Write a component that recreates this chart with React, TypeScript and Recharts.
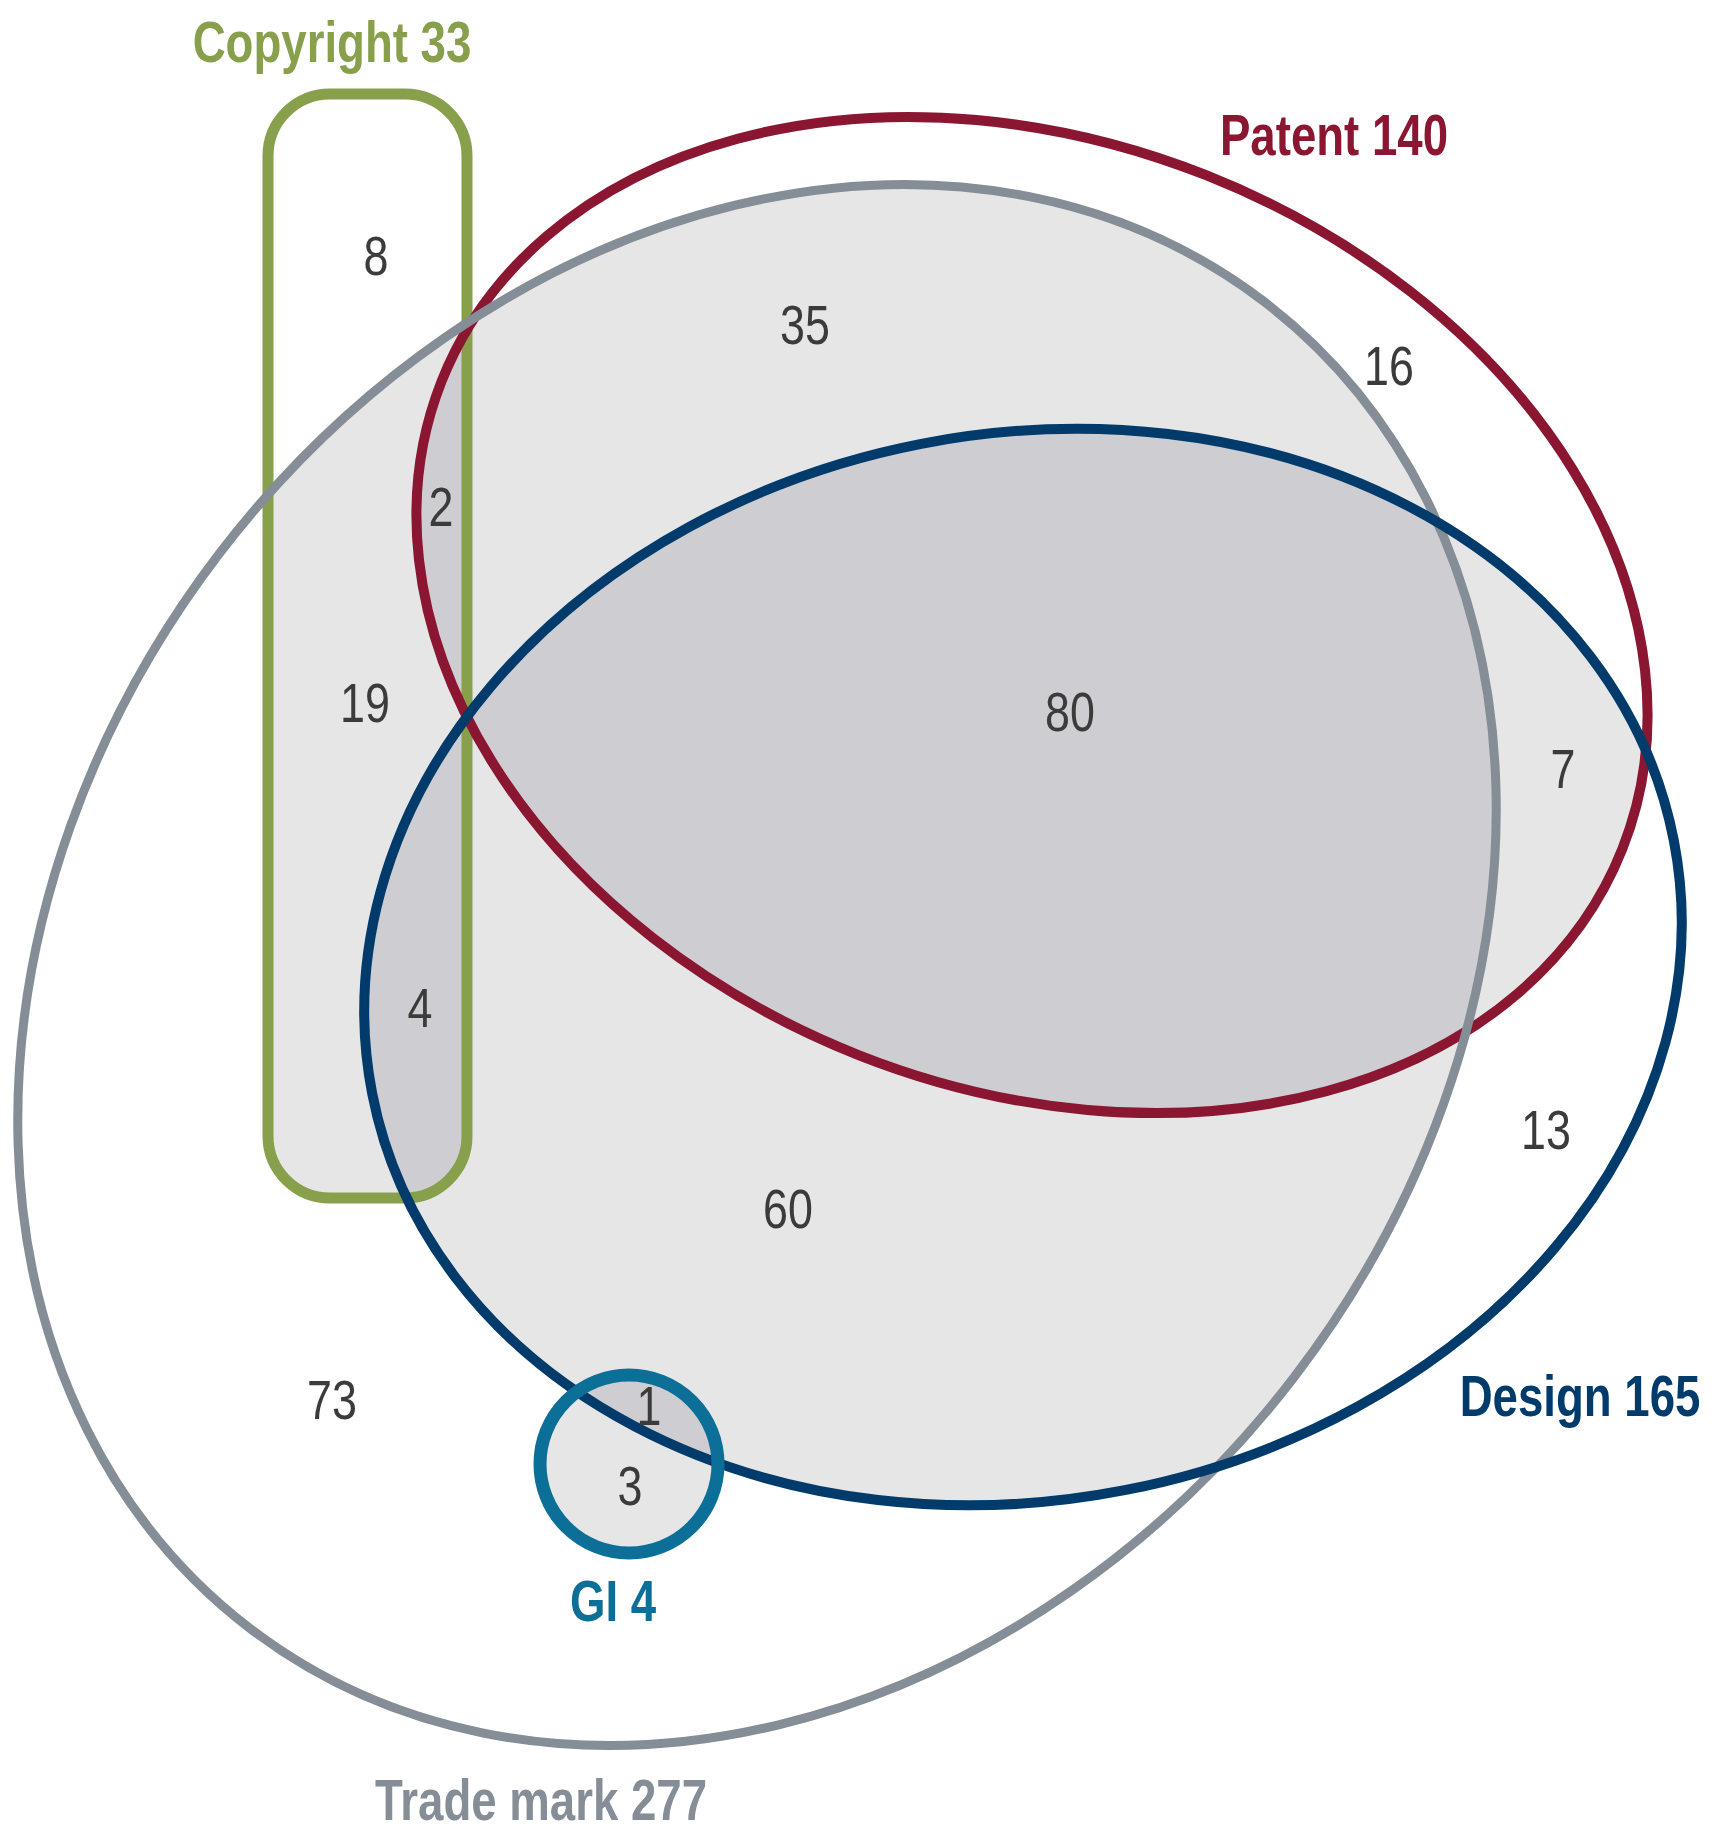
import { ScatterChart, Scatter, XAxis, YAxis, ReferenceArea } from 'recharts';

const CHART_W = 1721;
const CHART_H = 1843;

// sets: name, total, colour
const SET_NAMES = ['Copyright', 'Patent', 'Trade mark', 'Design', 'GI'];
const SET_TOTALS = [33, 140, 277, 165, 4];
const SET_COLORS = ['#889f4c', '#8b1631', '#858d96', '#003b6c', '#0c6f97'];

// where the set titles sit
const TITLE_X = [332, 1334, 541, 1580, 613];
const TITLE_Y = [41, 134, 1799, 1395, 1600];

// counts per region and where they sit
const REGION_COUNTS = [8, 35, 16, 2, 19, 80, 7, 4, 13, 60, 73, 1, 3];
const REGION_X = [376, 805, 1389, 441, 365, 1070, 1563, 420, 1546, 788, 332, 649, 630];
const REGION_Y = [255, 324, 365, 506, 702, 711, 768, 1007, 1129, 1208, 1399, 1405, 1485];

// outline of each set, same order as SET_NAMES (chart units)
type Shape =
  | { kind: 'rect'; x: number; y: number; w: number; h: number; r: number; sw: number }
  | { kind: 'ellipse'; cx: number; cy: number; rx: number; ry: number; rot: number; sw: number };

const SHAPES: Shape[] = [
  { kind: 'rect', x: 268, y: 94, w: 199, h: 1104, r: 62, sw: 11 },
  { kind: 'ellipse', cx: 1032, cy: 615, rx: 635, ry: 473, rot: 21.6, sw: 10 },
  { kind: 'ellipse', cx: 757, cy: 965, rx: 835, ry: 677, rot: -52.6, sw: 9 },
  { kind: 'ellipse', cx: 1023, cy: 967, rx: 663, ry: 533, rot: -11, sw: 10 },
  { kind: 'ellipse', cx: 629, cy: 1464, rx: 89, ry: 89, rot: 0, sw: 13 },
];

const LIGHT = '#e6e6e7';
const DARK = '#cdcdd2';
const FONT = "'Liberation Sans', Arial, sans-serif";

const regionData = REGION_COUNTS.map((v, i) => ({ x: REGION_X[i], y: REGION_Y[i], value: v }));
const titleData = SET_NAMES.map((n, i) => ({
  x: TITLE_X[i],
  y: TITLE_Y[i],
  label: `${n} ${SET_TOTALS[i]}`,
  color: SET_COLORS[i],
}));

function drawShape(s: Shape, px: (v: number) => number, py: (v: number) => number, k: number, extra: any) {
  if (s.kind === 'rect') {
    return (
      <rect
        x={px(s.x)}
        y={py(s.y)}
        width={s.w * k}
        height={s.h * k}
        rx={s.r * k}
        ry={s.r * k}
        {...extra}
      />
    );
  }
  const cx = px(s.cx);
  const cy = py(s.cy);
  return (
    <ellipse
      cx={cx}
      cy={cy}
      rx={s.rx * k}
      ry={s.ry * k}
      transform={`rotate(${s.rot} ${cx} ${cy})`}
      {...extra}
    />
  );
}

// whole-canvas reference area: derive the pixel mapping from the box recharts gives us
function VennCanvas(props: any) {
  const { x, y, width, height } = props;
  const kx = width / CHART_W;
  const ky = height / CHART_H;
  const px = (v: number) => x + v * kx;
  const py = (v: number) => y + v * ky;
  const k = kx;
  const n = SHAPES.length;

  // 2 sets overlapping -> light grey, 3 or more -> darker grey
  const pairs: any[] = [];
  const triples: any[] = [];
  for (let i = 0; i < n; i++) {
    for (let j = i + 1; j < n; j++) {
      pairs.push(
        <g key={`p${i}${j}`} clipPath={`url(#venn-clip-${j})`}>
          {drawShape(SHAPES[i], px, py, k, { fill: LIGHT, stroke: 'none' })}
        </g>
      );
      for (let m = j + 1; m < n; m++) {
        triples.push(
          <g key={`t${i}${j}${m}`} clipPath={`url(#venn-clip-${m})`}>
            <g clipPath={`url(#venn-clip-${j})`}>
              {drawShape(SHAPES[i], px, py, k, { fill: DARK, stroke: 'none' })}
            </g>
          </g>
        );
      }
    }
  }

  return (
    <g>
      <defs>
        {SHAPES.map((s, i) => (
          <clipPath key={i} id={`venn-clip-${i}`}>
            {drawShape(s, px, py, k, {})}
          </clipPath>
        ))}
      </defs>
      {pairs}
      {triples}
      {SHAPES.map((s, i) => (
        <g key={`o${i}`}>
          {drawShape(s, px, py, k, { fill: 'none', stroke: SET_COLORS[i], strokeWidth: s.sw })}
        </g>
      ))}
    </g>
  );
}

// narrow type like the original (Arial Narrow look): squeeze horizontally
const CountMark = (p: any) => (
  <g transform={`translate(${p.cx} ${p.cy}) scale(0.8 1)`}>
    <text x={0} y={0} dy="0.36em" textAnchor="middle" fontFamily={FONT} fontSize={56} fill="#3b3b3b">
      {p.payload.value}
    </text>
  </g>
);

const TitleMark = (p: any) => (
  <g transform={`translate(${p.cx} ${p.cy}) scale(0.8 1)`}>
    <text
      x={0}
      y={0}
      dy="0.36em"
      textAnchor="middle"
      fontFamily={FONT}
      fontWeight="bold"
      fontSize={57}
      fill={p.payload.color}
    >
      {p.payload.label}
    </text>
  </g>
);

export default function App() {
  return (
    <div style={{ position: 'absolute', left: 0, top: 0, background: '#fff' }}>
      <ScatterChart width={CHART_W} height={CHART_H} margin={{ top: 0, right: 0, bottom: 0, left: 0 }}>
        <XAxis type="number" dataKey="x" domain={[0, CHART_W]} hide allowDataOverflow />
        <YAxis type="number" dataKey="y" domain={[0, CHART_H]} reversed hide allowDataOverflow />
        <ReferenceArea
          x1={0}
          x2={CHART_W}
          y1={0}
          y2={CHART_H}
          shape={(p: any) => <VennCanvas {...p} />}
        />
        <Scatter data={regionData} shape={CountMark} isAnimationActive={false} />
        <Scatter data={titleData} shape={TitleMark} isAnimationActive={false} />
      </ScatterChart>
    </div>
  );
}
